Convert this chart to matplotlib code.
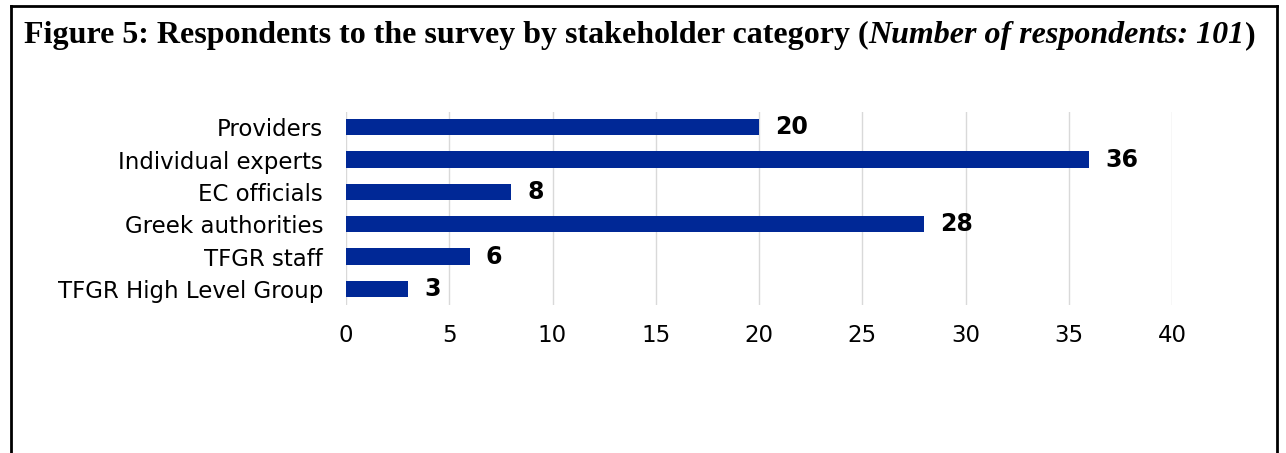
import matplotlib.pyplot as plt
from matplotlib.lines import Line2D

# data
categories = ["Providers", "Individual experts", "EC officials",
              "Greek authorities", "TFGR staff", "TFGR High Level Group"]
respondents = [20, 36, 8, 28, 6, 3]
xticks = [0, 5, 10, 15, 20, 25, 30, 35, 40]

W, H = 1286, 453
fig = plt.figure(figsize=(W / 100, H / 100), dpi=100)

ax = fig.add_axes([346 / W, 1 - 305 / H, (1172 - 346) / W, (305 - 112) / H])
pos = list(range(len(categories)))
ax.barh(pos, respondents, height=0.5, color="#002896", zorder=3)
ax.set_ylim(5.5, -0.47)
ax.set_xlim(0, 40)
ax.set_xticks(xticks)
ax.set_yticks(pos)
ax.set_yticklabels(categories, fontsize=16.5, family="DejaVu Sans")
ax.tick_params(axis="y", length=0, pad=16.5)
ax.tick_params(axis="x", length=0, pad=14, labelsize=16.5)
ax.grid(axis="x", color="#d9d9d9", linewidth=1, zorder=0)
for s in ax.spines.values():
    s.set_visible(False)

for p, v in zip(pos, respondents):
    ax.annotate(str(v), (v, p), xytext=(11.5, 0), textcoords="offset points",
                va="center", ha="left", fontsize=17, fontweight="bold")

# frame around the figure (open at the bottom)
lw = 2
fig.add_artist(Line2D([11 / W, 1277 / W], [1 - 6 / H, 1 - 6 / H], color="black", lw=lw))
fig.add_artist(Line2D([11 / W, 11 / W], [1 - 6 / H, 0], color="black", lw=lw))
fig.add_artist(Line2D([1277 / W, 1277 / W], [1 - 6 / H, 0], color="black", lw=lw))

# title with an italic part
fig.canvas.draw()
r = fig.canvas.get_renderer()
x = 24 / W
y = 1 - 43 / H
parts = [("Figure 5: Respondents to the survey by stakeholder category (", "normal"),
         ("Number of respondents: 101", "italic"),
         (")", "normal")]
for txt, style in parts:
    t = fig.text(x, y, txt, family="Liberation Serif", fontsize=23,
                 fontweight="bold", style=style, va="baseline", ha="left")
    bb = t.get_window_extent(renderer=r)
    x += bb.width / W

fig.savefig("out.png", dpi=100)
